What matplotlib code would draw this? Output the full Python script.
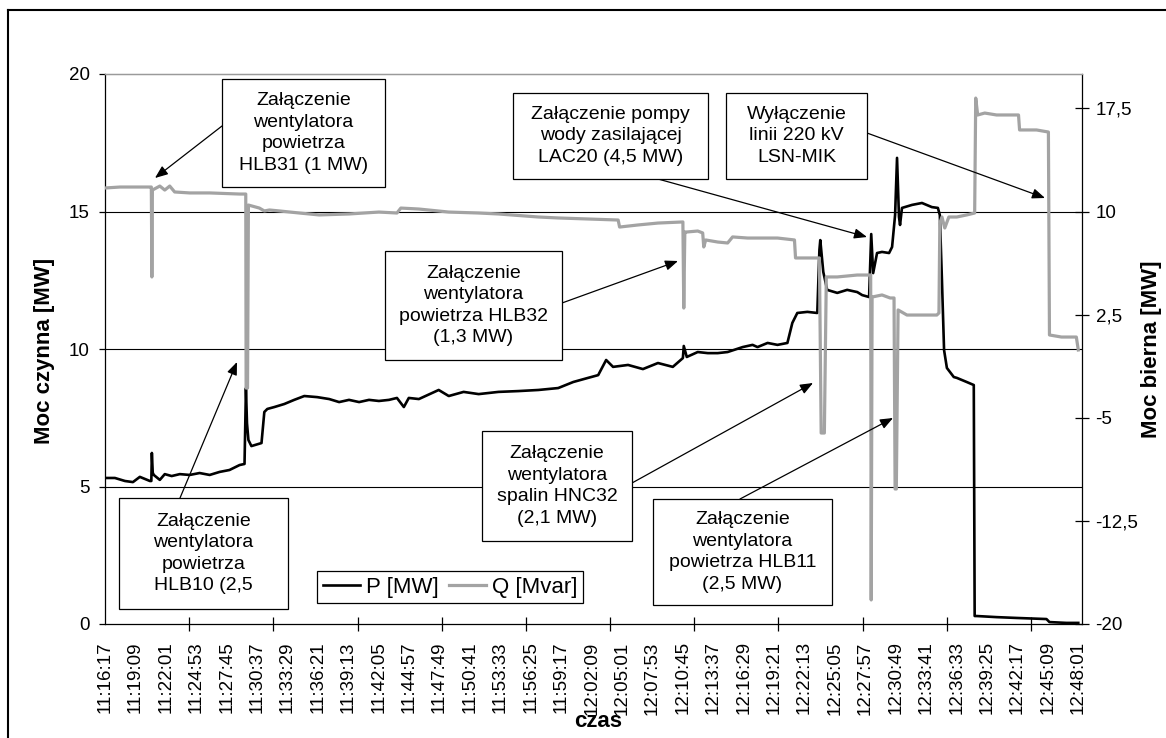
import matplotlib
matplotlib.use("Agg")
import matplotlib.pyplot as plt
from matplotlib.patches import Rectangle
from matplotlib.lines import Line2D
from matplotlib.ticker import FuncFormatter

plt.rcParams["font.family"] = ["Liberation Sans", "DejaVu Sans"]

W, H = 1166, 738

# category labels on the time axis
time_labels = ["11:16:17", "11:19:09", "11:22:01", "11:24:53", "11:27:45", "11:30:37",
               "11:33:29", "11:36:21", "11:39:13", "11:42:05", "11:44:57", "11:47:49",
               "11:50:41", "11:53:33", "11:56:25", "11:59:17", "12:02:09", "12:05:01",
               "12:07:53", "12:10:45", "12:13:37", "12:16:29", "12:19:21", "12:22:13",
               "12:25:05", "12:27:57", "12:30:49", "12:33:41", "12:36:33", "12:39:25",
               "12:42:17", "12:45:09", "12:48:01"]

# active power P [MW], time in seconds after 11:16:17
p_t = [0, 56, 113, 158, 197, 254, 262, 265, 270, 276, 310, 338, 377, 423, 479, 535, 592,
       648, 704, 761, 789, 794, 797, 803, 811, 828, 885, 901, 918, 958, 1014, 1070, 1127,
       1200, 1268, 1324, 1380, 1437, 1493, 1549, 1606, 1651, 1690, 1718, 1775, 1887, 1944,
       2028, 2113, 2225, 2338, 2451, 2563, 2648, 2732, 2789, 2834, 2873, 2958, 3042, 3127,
       3211, 3268, 3273, 3290, 3352, 3409, 3465, 3521, 3606, 3662, 3690, 3747, 3803, 3859,
       3887, 3915, 3972, 4028, 4040, 4045, 4062, 4084, 4141, 4197, 4254, 4282, 4321, 4333,
       4344, 4366, 4394, 4434, 4451, 4468, 4479, 4490, 4496, 4507, 4564, 4620, 4676, 4710,
       4721, 4733, 4745, 4761, 4800, 4817, 4873, 4913, 4918, 4930, 5042, 5155, 5324, 5341,
       5437, 5504]
p_mw = [5.31, 5.31, 5.20, 5.16, 5.35, 5.20, 5.20, 6.22, 5.50, 5.42, 5.24, 5.45, 5.38, 5.45,
        5.42, 5.49, 5.42, 5.53, 5.60, 5.78, 5.82, 7.53, 8.58, 7.30, 6.69, 6.47, 6.58, 7.71,
        7.82, 7.89, 8.00, 8.15, 8.29, 8.25, 8.18, 8.07, 8.15, 8.07, 8.15, 8.11, 8.15, 8.22,
        7.89, 8.22, 8.18, 8.51, 8.29, 8.44, 8.36, 8.44, 8.47, 8.51, 8.58, 8.80, 8.95, 9.05,
        9.60, 9.35, 9.42, 9.27, 9.49, 9.35, 9.67, 10.11, 9.71, 9.89, 9.85, 9.85, 9.89, 10.07,
        10.15, 10.07, 10.22, 10.15, 10.22, 10.95, 11.31, 11.35, 11.31, 13.60, 13.96, 12.80,
        12.15, 12.04, 12.15, 12.07, 11.96, 11.89, 14.18, 12.76, 13.49, 13.53, 13.49, 13.71,
        14.87, 16.95, 14.80, 14.51, 15.13, 15.24, 15.31, 15.16, 15.13, 14.87, 12.50, 9.96,
        9.31, 8.98, 8.95, 8.80, 8.69, 0.29, 0.29, 0.25, 0.22, 0.18, 0.07, 0.04, 0.04]

# reactive power Q [Mvar]
q_t = [0, 85, 254, 262, 265, 268, 310, 338, 366, 394, 479, 592, 761, 796, 798, 806, 811,
       873, 901, 930, 986, 1099, 1211, 1380, 1549, 1651, 1673, 1775, 1944, 2113, 2225, 2451,
       2563, 2902, 2910, 3014, 3127, 3268, 3273, 3279, 3290, 3352, 3380, 3386, 3397, 3465,
       3521, 3549, 3634, 3803, 3899, 3905, 4040, 4050, 4068, 4079, 4141, 4254, 4330, 4333,
       4338, 4394, 4440, 4462, 4468, 4475, 4485, 4535, 4704, 4716, 4721, 4733, 4749, 4772,
       4817, 4873, 4918, 4924, 4935, 4975, 5042, 5166, 5172, 5268, 5335, 5341, 5409, 5493,
       5504]
q_mvar = [11.71, 11.78, 11.78, 11.78, 5.24, 11.56, 11.85, 11.56, 11.85, 11.42, 11.35, 11.35,
          11.27, 11.27, -2.84, -2.84, 10.47, 10.25, 10.04, 10.11, 10.04, 9.89, 9.75, 9.82,
          9.96, 9.89, 10.25, 10.18, 9.96, 9.89, 9.82, 9.60, 9.53, 9.38, 8.87, 9.02, 9.16,
          9.24, 2.98, 8.51, 8.51, 8.58, 8.44, 7.42, 7.93, 7.78, 7.71, 8.15, 8.07, 8.07, 7.93,
          6.62, 6.62, -6.11, -6.11, 5.24, 5.24, 5.38, 5.38, -18.25, 3.78, 3.93, 3.71, 3.71,
          -10.18, -10.18, 2.84, 2.47, 2.47, 2.62, 9.16, 9.60, 8.80, 9.60, 9.60, 9.75, 9.89,
          18.25, 17.02, 17.16, 17.02, 17.02, 15.93, 15.93, 15.78, 1.02, 0.87, 0.87, -0.07]

note_texts = [
    "Załączenie\nwentylatora\npowietrza\nHLB31 (1 MW)",
    "Załączenie pompy\nwody zasilającej\nLAC20 (4,5 MW)",
    "Wyłączenie\nlinii 220 kV\nLSN-MIK",
    "Załączenie\nwentylatora\npowietrza HLB32\n(1,3 MW)",
    "Załączenie\nwentylatora\npowietrza\nHLB10 (2,5",
    "Załączenie\nwentylatora\nspalin HNC32\n(2,1 MW)",
    "Załączenie\nwentylatora\npowietrza HLB11\n(2,5 MW)",
]


def to_sec(s):
    h, m, sec = map(int, s.split(":"))
    return h * 3600 + m * 60 + sec - (11 * 3600 + 16 * 60 + 17)


fig = plt.figure(figsize=(W / 100, H / 100), dpi=100)
ax = fig.add_axes([105 / W, (H - 624) / H, 977 / W, 550 / H])

ax.plot(p_t, p_mw, color="black", lw=1.9, label="P [MW]", zorder=3)
for yv in (5, 10, 15):
    ax.axhline(yv, color="black", lw=0.8, zorder=1)

ax2 = ax.twinx()
ax2.plot(q_t, q_mvar, color="#a3a3a3", lw=2.3, label="Q [Mvar]")

ax.set_xlim(0, 5525)
ax.set_ylim(0, 20)
ax.set_yticks([0, 5, 10, 15, 20])
ax2.set_ylim(-20, 20)
ax2.set_yticks([-20, -12.5, -5, 2.5, 10, 17.5])
ax2.yaxis.set_major_formatter(FuncFormatter(lambda v, _: f"{v:g}".replace(".", ",")))

ax.set_xticks([to_sec(s) for s in time_labels])
ax.set_xticklabels(time_labels, rotation=90)
ax.set_xticks(list(range(0, 5525, 476)), minor=True)
ax.tick_params(axis="x", which="major", length=0, pad=12.5, labelsize=13.5)
ax.tick_params(axis="x", which="minor", direction="inout", length=9.5, width=0.9)
ax.tick_params(axis="y", direction="out", length=4.3, width=0.9, pad=6.5, labelsize=13.5)
ax2.tick_params(axis="y", direction="inout", length=9.5, width=0.9, pad=5, labelsize=13.5)

for a in (ax, ax2):
    a.spines["top"].set_color("#9a9a9a")
    for sp in a.spines.values():
        sp.set_linewidth(0.9)
ax.spines["right"].set_visible(False)
ax2.spines["left"].set_visible(False)
ax2.spines["bottom"].set_visible(False)

h1, l1 = ax.get_legend_handles_labels()
h2, l2 = ax2.get_legend_handles_labels()
leg = ax2.legend(h1 + h2, l1 + l2, ncol=2, loc="center",
                 bbox_to_anchor=(450 / W, 1 - 587 / H), bbox_transform=fig.transFigure,
                 fontsize=16, fancybox=False, edgecolor="black", framealpha=1,
                 borderpad=0.25, handlelength=1.7, handletextpad=0.25,
                 columnspacing=0.45, borderaxespad=0)
leg.get_frame().set_linewidth(0.9)

fig.text(45 / W, 1 - 351 / H, "Moc czynna [MW]", rotation=90, ha="center", va="center",
         fontsize=16, fontweight="bold")
fig.text(1152 / W, 1 - 349 / H, "Moc bierna [MW]", rotation=90, ha="center", va="center",
         fontsize=16, fontweight="bold")
fig.text(598 / W, 1 - 727 / H, "czas", ha="center", va="baseline",
         fontsize=16, fontweight="bold")

# annotation boxes: (x0, y0, x1, y1) box, arrow start, arrow tip, in image pixels
note_layout = [
    ((222, 79, 385, 187), (222, 126), (155, 178)),
    ((513, 93, 708, 179), (658, 179), (867, 237)),
    ((726, 93, 867, 179), (867, 133), (1045, 198)),
    ((385, 251, 562, 360), (562, 303), (678, 261)),
    ((119, 498, 288, 609), (180, 498), (237, 362)),
    ((482, 431, 632, 541), (632, 483), (813, 383)),
    ((653, 499, 832, 605), (740, 499), (893, 418)),
]
for text, (box, start, tip) in zip(note_texts, note_layout):
    x0, y0, x1, y1 = box
    fig.add_artist(Rectangle((x0 / W, 1 - y1 / H), (x1 - x0) / W, (y1 - y0) / H,
                             transform=fig.transFigure, fc="white", ec="black",
                             lw=0.9, zorder=3))
    fig.text((x0 + x1) / 2 / W, 1 - (y0 + y1) / 2 / H, text, ha="center", va="center",
             multialignment="center", fontsize=14, linespacing=1.35, zorder=4)
    ax2.annotate("", xy=(tip[0], H - tip[1]), xycoords="figure pixels",
                 xytext=(start[0], H - start[1]), textcoords="figure pixels",
                 arrowprops=dict(arrowstyle="-|>,head_length=0.55,head_width=0.22",
                                 color="black", lw=0.9, shrinkA=0, shrinkB=0,
                                 mutation_scale=14))

# outer frame of the figure (left and top edges visible)
fig.add_artist(Line2D([8 / W, 8 / W], [0, 1 - 10 / H], color="black", lw=1.5,
                      transform=fig.transFigure))
fig.add_artist(Line2D([8 / W, 1], [1 - 10 / H, 1 - 10 / H], color="black", lw=1.5,
                      transform=fig.transFigure))

fig.savefig("out.png", dpi=100)
